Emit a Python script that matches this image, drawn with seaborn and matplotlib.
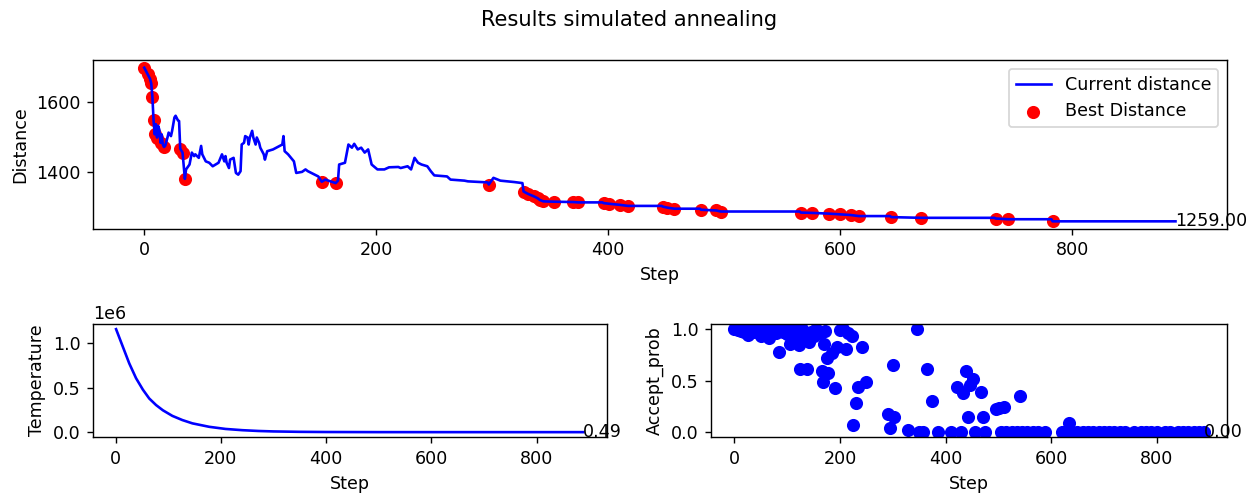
import matplotlib
matplotlib.use("Agg")
import matplotlib.pyplot as plt
import seaborn as sns
import pandas as pd

# ---------------- data ----------------
cur_steps = [0, 3, 5, 6, 7, 8, 9, 10, 11, 12, 13, 14, 15, 16, 17, 18, 20, 21, 23, 24,
             26, 27, 29, 30, 31, 33, 35, 36, 39, 41, 43, 44, 47, 49, 50, 53, 56, 59, 64,
             67, 69, 70, 71, 73, 74, 77, 79, 81, 83, 84, 86, 87, 89, 90, 91, 93, 94, 96,
             97, 99, 100, 103, 104, 106, 111, 119, 120, 121, 124, 129, 131, 136, 139,
             141, 144, 150, 153, 156, 165, 167, 168, 173, 176, 179, 181, 184, 187, 190,
             193, 196, 201, 207, 211, 219, 221, 227, 230, 233, 236, 239, 244, 247, 250,
             261, 264, 276, 279, 296, 297, 301, 307, 319, 326, 327, 331, 336, 339, 341,
             344, 353, 370, 374, 395, 396, 401, 410, 417, 446, 447, 451, 457, 479, 480,
             493, 497, 565, 566, 576, 590, 600, 609, 616, 643, 644, 670, 733, 734, 745,
             782, 783, 889]
cur_dist = [1697, 1678, 1665, 1652, 1614, 1547, 1507, 1536, 1498, 1531, 1520, 1483, 1507,
            1478, 1471, 1474, 1498, 1512, 1502, 1517, 1555, 1560, 1547, 1545, 1466, 1455,
            1380, 1407, 1421, 1455, 1445, 1450, 1440, 1474, 1450, 1430, 1426, 1416, 1426,
            1450, 1430, 1445, 1426, 1411, 1435, 1440, 1397, 1392, 1402, 1478, 1483, 1502,
            1498, 1478, 1498, 1517, 1498, 1478, 1498, 1483, 1469, 1450, 1435, 1459, 1464,
            1478, 1502, 1459, 1450, 1430, 1397, 1400, 1407, 1402, 1397, 1387, 1372, 1378,
            1368, 1375, 1421, 1426, 1478, 1469, 1480, 1464, 1469, 1455, 1464, 1421, 1407,
            1407, 1413, 1414, 1411, 1416, 1407, 1440, 1426, 1421, 1416, 1402, 1390, 1387,
            1378, 1375, 1373, 1370, 1364, 1383, 1375, 1371, 1368, 1344, 1337, 1330, 1325,
            1320, 1316, 1315, 1314, 1313, 1313, 1311, 1309, 1306, 1303, 1303, 1301, 1298,
            1295, 1295, 1292, 1290, 1287, 1287, 1284, 1283, 1281, 1279, 1277, 1274, 1274,
            1271, 1269, 1269, 1267, 1265, 1265, 1259, 1259]

best_steps = [0, 3, 5, 6, 7, 8, 9, 11, 14, 17, 31, 33, 35, 153, 165, 297, 327, 331, 336,
              339, 341, 344, 353, 370, 374, 396, 401, 410, 417, 447, 451, 457, 480, 493,
              497, 566, 576, 590, 600, 609, 616, 644, 670, 734, 745, 783]
best_dist = [1697, 1678, 1665, 1652, 1614, 1547, 1507, 1498, 1483, 1471, 1466, 1455, 1380,
             1372, 1368, 1364, 1344, 1337, 1330, 1325, 1320, 1316, 1315, 1314, 1313, 1311,
             1309, 1306, 1303, 1301, 1298, 1295, 1292, 1290, 1287, 1284, 1283, 1281, 1279,
             1277, 1274, 1271, 1269, 1267, 1265, 1259]

temp_steps = [1, 13, 26, 39, 52, 64, 77, 90, 108, 127, 146, 178, 209, 241, 272, 300,
              350, 400, 500, 600, 700, 800, 889]
temp_vals = [1.16e6, 0.975e6, 0.775e6, 0.607e6, 0.478e6, 0.379e6, 0.305e6, 0.246e6,
             0.183e6, 0.136e6, 0.099e6, 0.060e6, 0.036e6, 0.022e6, 0.013e6, 8000,
             3500, 1500, 250, 45, 8, 1.6, 0.49]

acc_steps = [0, 3, 6, 9, 12, 15, 18, 22, 25, 28,
             32, 36, 40, 44, 48, 50, 53, 57, 61, 66,
             70, 74, 78, 84, 88, 92, 96, 100, 104, 106,
             110, 114, 118, 122, 125, 128, 132, 137, 141, 145,
             150, 155, 160, 166, 167, 169, 172, 175, 178, 184,
             191, 194, 200, 205, 212, 216, 222, 225, 231, 234,
             241, 250, 291, 294, 300, 303, 328, 346, 350, 358,
             364, 374, 386, 411, 421, 430, 433, 439, 443, 446,
             452, 455, 468, 471, 474, 496, 502, 505, 511, 515,
             525, 535, 542, 545, 555, 565, 575, 589, 620, 625,
             630, 633, 640, 650, 660, 670, 680, 690, 700, 710,
             720, 730, 740, 758, 770, 780, 790, 800, 815, 825,
             840, 850, 860, 870, 880, 889]
acc_vals = [1.0, 1.0, 0.99, 1.0, 0.98, 1.0, 0.97, 1.0, 0.94, 0.99,
            1.0, 0.97, 1.0, 0.98, 0.95, 0.93, 1.0, 0.97, 1.0, 0.91,
            0.98, 1.0, 0.96, 0.78, 1.0, 0.97, 1.0, 0.95, 0.99, 0.86,
            1.0, 0.96, 0.92, 0.85, 0.61, 1.0, 0.95, 0.61, 0.88, 0.97,
            0.93, 1.0, 0.96, 0.59, 0.49, 0.86, 0.98, 0.72, 0.57, 0.77,
            0.43, 0.83, 0.99, 1.0, 0.81, 0.96, 0.93, 0.07, 0.28, 0.44,
            0.83, 0.49, 0.18, 0.04, 0.65, 0.15, 0.02, 1.0, 0.0, 0.0,
            0.61, 0.30, 0.0, 0.0, 0.44, 0.0, 0.38, 0.59, 0.15, 0.46,
            0.52, 0.0, 0.39, 0.15, 0.0, 0.22, 0.23, 0.0, 0.24, 0.0,
            0.0, 0.0, 0.35, 0.0, 0.0, 0.0, 0.0, 0.0, 0.0, 0.0,
            0.0, 0.09, 0.0, 0.0, 0.0, 0.0, 0.0, 0.0, 0.0, 0.0,
            0.0, 0.0, 0.0, 0.0, 0.0, 0.0, 0.0, 0.0, 0.0, 0.0,
            0.0, 0.0, 0.0, 0.0, 0.0, 0.0]

final_dist_label = "1259.00"
final_temp_label = "0.49"
final_prob_label = "0.00"

# ---------------- figure ----------------
DPI = 125.8
fig = plt.figure(figsize=(1258 / DPI, 494 / DPI), dpi=DPI)
fig.suptitle("Results simulated annealing", fontsize=12)

ax1 = fig.add_axes([0.0737, 0.5364, 0.9017, 0.3421])
ax2 = fig.add_axes([0.0737, 0.1148, 0.4086, 0.2293])
ax3 = fig.add_axes([0.5652, 0.1148, 0.4102, 0.2293])

df_cur = pd.DataFrame({"Step": cur_steps, "Distance": cur_dist})
df_best = pd.DataFrame({"Step": best_steps, "Distance": best_dist})
df_temp = pd.DataFrame({"Step": temp_steps, "Temperature": temp_vals})
df_acc = pd.DataFrame({"Step": acc_steps, "Accept_prob": acc_vals})

sns.lineplot(data=df_cur, x="Step", y="Distance", ax=ax1, color="blue", lw=1.5,
             estimator=None, sort=False, label="Current distance", zorder=3)
sns.scatterplot(data=df_best, x="Step", y="Distance", ax=ax1, color="red", s=36,
                edgecolor="red", linewidth=1.5, label="Best Distance", zorder=2)
ax1.legend(loc="upper right")
ax1.text(cur_steps[-1], cur_dist[-1], final_dist_label, ha="left", va="center")

sns.lineplot(data=df_temp, x="Step", y="Temperature", ax=ax2, color="blue", lw=1.5,
             estimator=None, sort=False)
ax2.text(temp_steps[-1], temp_vals[-1], final_temp_label, ha="left", va="center")

sns.scatterplot(data=df_acc, x="Step", y="Accept_prob", ax=ax3, color="blue", s=36,
                edgecolor="blue", linewidth=1.5)
ax3.text(acc_steps[-1], acc_vals[-1], final_prob_label, ha="left", va="center")

fig.savefig("out.png", dpi=DPI)
